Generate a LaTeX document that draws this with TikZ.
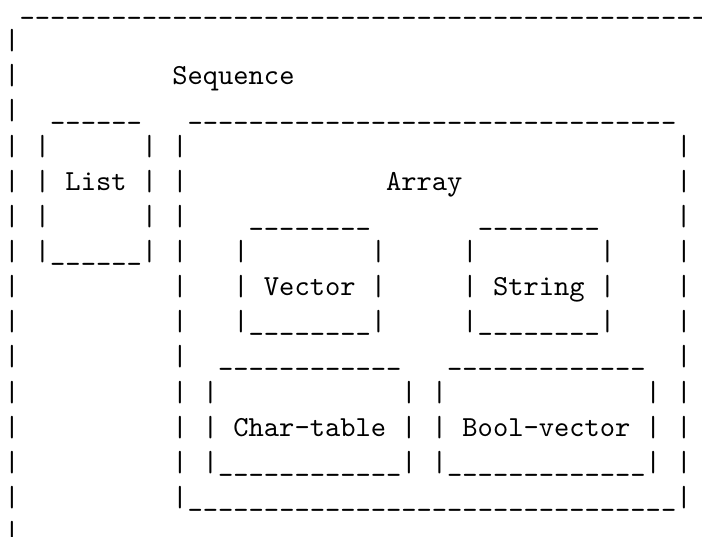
\documentclass[tikz,border=0pt]{standalone}
\usepackage{fontspec}
\newfontfamily\ttten{lmmono10-regular}[Extension=.otf]
\newcommand\Rpt[2]{\ifnum#1>0 #2\expandafter\Rpt\expandafter{\the\numexpr#1-1\relax}{#2}\fi}
\newlength\cwid
\begin{document}
\settowidth\cwid{\fontsize{20pt}{24pt}\selectfont\ttten M}%
\pgfmathsetmacro\fsz{20*15.27/\cwid}%
\begin{tikzpicture}[x=1pt,y=1pt]
\tikzset{
  row/.style={anchor=base west, inner sep=0pt, outer sep=0pt,
    font=\fontsize{\fsz pt}{35.15pt}\selectfont\ttten}
}
\useasboundingbox (0,0) rectangle (702,-537);
\def\bl#1{-(14.5+#1*35.15)}
\node[row] (r0)  at (4.4,{\bl{0}})  {~\Rpt{45}{\_}};
\node[row] (r1)  at (4.4,{\bl{1}})  {|};
\node[row] (r2)  at (4.4,{\bl{2}})  {|\Rpt{10}{~}Sequence};
\node[row] (r3)  at (4.4,{\bl{3}})  {|\Rpt{2}{~}\Rpt{6}{\_}\Rpt{3}{~}\Rpt{32}{\_}};
\node[row] (r4)  at (4.4,{\bl{4}})  {|~|\Rpt{6}{~}|~|\Rpt{32}{~}|};
\node[row] (r5)  at (4.4,{\bl{5}})  {|~|~List~|~|\Rpt{13}{~}Array\Rpt{14}{~}|};
\node[row] (r6)  at (4.4,{\bl{6}})  {|~|\Rpt{6}{~}|~|\Rpt{4}{~}\Rpt{8}{\_}\Rpt{7}{~}\Rpt{8}{\_}\Rpt{5}{~}|};
\node[row] (r7)  at (4.4,{\bl{7}})  {|~|\Rpt{6}{\_}|~|\Rpt{3}{~}|\Rpt{8}{~}|\Rpt{5}{~}|\Rpt{8}{~}|\Rpt{4}{~}|};
\node[row] (r8)  at (4.4,{\bl{8}})  {|\Rpt{10}{~}|\Rpt{3}{~}|~Vector~|\Rpt{5}{~}|~String~|\Rpt{4}{~}|};
\node[row] (r9)  at (4.4,{\bl{9}})  {|\Rpt{10}{~}|\Rpt{3}{~}|\Rpt{8}{\_}|\Rpt{5}{~}|\Rpt{8}{\_}|\Rpt{4}{~}|};
\node[row] (r10) at (4.4,{\bl{10}}) {|\Rpt{10}{~}|\Rpt{2}{~}\Rpt{12}{\_}\Rpt{3}{~}\Rpt{13}{\_}\Rpt{2}{~}|};
\node[row] (r11) at (4.4,{\bl{11}}) {|\Rpt{10}{~}|~|\Rpt{12}{~}|~|\Rpt{13}{~}|~|};
\node[row] (r12) at (4.4,{\bl{12}}) {|\Rpt{10}{~}|~|~Char-table~|~|~Bool-vector~|~|};
\node[row] (r13) at (4.4,{\bl{13}}) {|\Rpt{10}{~}|~|\Rpt{12}{\_}|~|\Rpt{13}{\_}|~|};
\node[row] (r14) at (4.4,{\bl{14}}) {|\Rpt{10}{~}|\Rpt{32}{\_}|};
\node[row] (r15) at (4.4,{\bl{15}}) {|};
\end{tikzpicture}
\end{document}
